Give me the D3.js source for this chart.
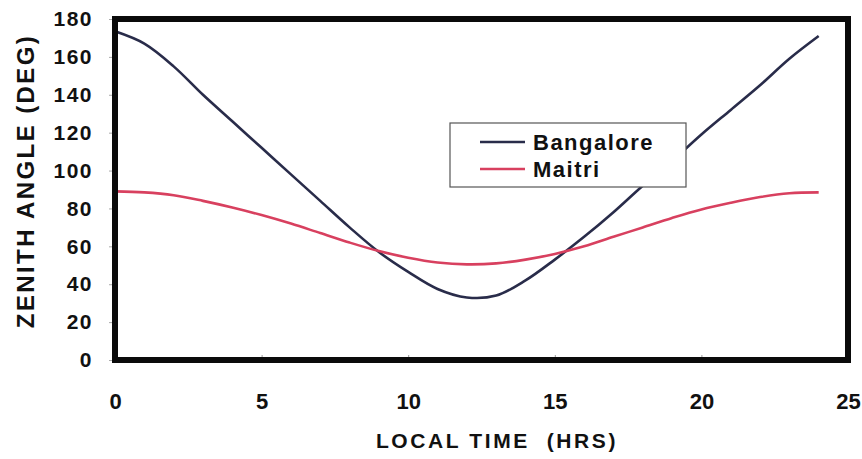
<!DOCTYPE html>
<html>
<head>
<meta charset="utf-8">
<script src="https://cdn.jsdelivr.net/npm/d3@7"></script>
<style>
  body { margin: 0; background: #fff; }
  svg text { font-family: "Liberation Sans", Arial, sans-serif; font-weight: bold; fill: #111; }
</style>
</head>
<body>
<svg width="862" height="459"></svg>
<script>
// hours of the day
const hours = d3.range(0, 25);
// zenith angle (deg)
const bangalore = [173.5, 167, 155, 140, 126, 112, 98, 84, 70, 57, 46.5, 37.5, 33,
                   34, 42, 53, 65, 78, 92, 105, 119, 132, 145, 159, 171];
const maitri = [89, 88.5, 87, 84, 80.5, 76.5, 72, 67, 62, 57.5, 54, 51.5, 50.5,
                51, 53, 56, 60, 65, 70, 75, 79.5, 83, 86, 88, 88.5];
const xTicks = [0, 5, 10, 15, 20, 25];
const yTicks = [0, 20, 40, 60, 80, 100, 120, 140, 160, 180];
const seriesNames = ["Bangalore", "Maitri"];
const seriesColors = ["#292c4a", "#d8405f"];

const svg = d3.select("svg");
const plotLeft = 115, plotRight = 848, plotTop = 19, plotBottom = 360;

const xScale = d3.scaleLinear().domain([0, 25]).range([plotLeft, plotRight]);
const yScale = d3.scaleLinear().domain([0, 180]).range([plotBottom, plotTop]);

// y ticks + labels
const yAxis = d3.axisLeft(yScale).tickValues(yTicks).tickSize(6).tickPadding(16);
const gy = svg.append("g").attr("transform", `translate(${plotLeft},0)`).call(yAxis);
gy.select(".domain").remove();
gy.selectAll(".tick line").attr("stroke", "#aaa");
gy.selectAll(".tick text")
  .attr("font-size", 21)
  .attr("letter-spacing", 1.5)
  .attr("fill", "#111");

// x ticks + labels
const xAxis = d3.axisBottom(xScale).tickValues(xTicks).tickSize(-5).tickPadding(33);
const gx = svg.append("g").attr("transform", `translate(0,${plotBottom})`).call(xAxis);
gx.select(".domain").remove();
gx.selectAll(".tick line").attr("stroke", "#999");
gx.selectAll(".tick text")
  .attr("font-size", 22)
  .attr("fill", "#111");

// lines
const series = [bangalore, maitri];
const line = d3.line()
  .x((d, i) => xScale(hours[i]))
  .y((d) => yScale(d))
  .curve(d3.curveCatmullRom.alpha(0.5));

svg.selectAll(".series")
  .data(series)
  .enter()
  .append("path")
  .attr("class", "series")
  .attr("d", line)
  .attr("fill", "none")
  .attr("stroke", (d, i) => seriesColors[i])
  .attr("stroke-width", 2.6);

// frame
svg.append("rect")
  .attr("x", plotLeft)
  .attr("y", plotTop)
  .attr("width", plotRight - plotLeft)
  .attr("height", plotBottom - plotTop)
  .attr("fill", "none")
  .attr("stroke", "#0a0a0a")
  .attr("stroke-width", 6);

// legend
const legend = svg.append("g").attr("transform", "translate(450,123)");
legend.append("rect")
  .attr("width", 236)
  .attr("height", 64)
  .attr("fill", "#fff")
  .attr("stroke", "#555")
  .attr("stroke-width", 1.2);
seriesNames.forEach((name, i) => {
  const y = 19 + i * 27;
  legend.append("line")
    .attr("x1", 30).attr("x2", 75)
    .attr("y1", y).attr("y2", y)
    .attr("stroke", seriesColors[i])
    .attr("stroke-width", 2.6);
  legend.append("text")
    .attr("x", 83)
    .attr("y", y + 8)
    .attr("font-size", 22)
    .attr("letter-spacing", 1.5)
    .text(name);
});

// axis titles
svg.append("text")
  .attr("x", 497)
  .attr("y", 448)
  .attr("text-anchor", "middle")
  .attr("font-size", 21)
  .attr("letter-spacing", 2.6)
  .attr("xml:space", "preserve")
  .text("LOCAL TIME  (HRS)");

svg.append("text")
  .attr("transform", "translate(34,181) rotate(-90)")
  .attr("text-anchor", "middle")
  .attr("font-size", 24)
  .attr("letter-spacing", 2.4)
  .text("ZENITH ANGLE (DEG)");
</script>
</body>
</html>
